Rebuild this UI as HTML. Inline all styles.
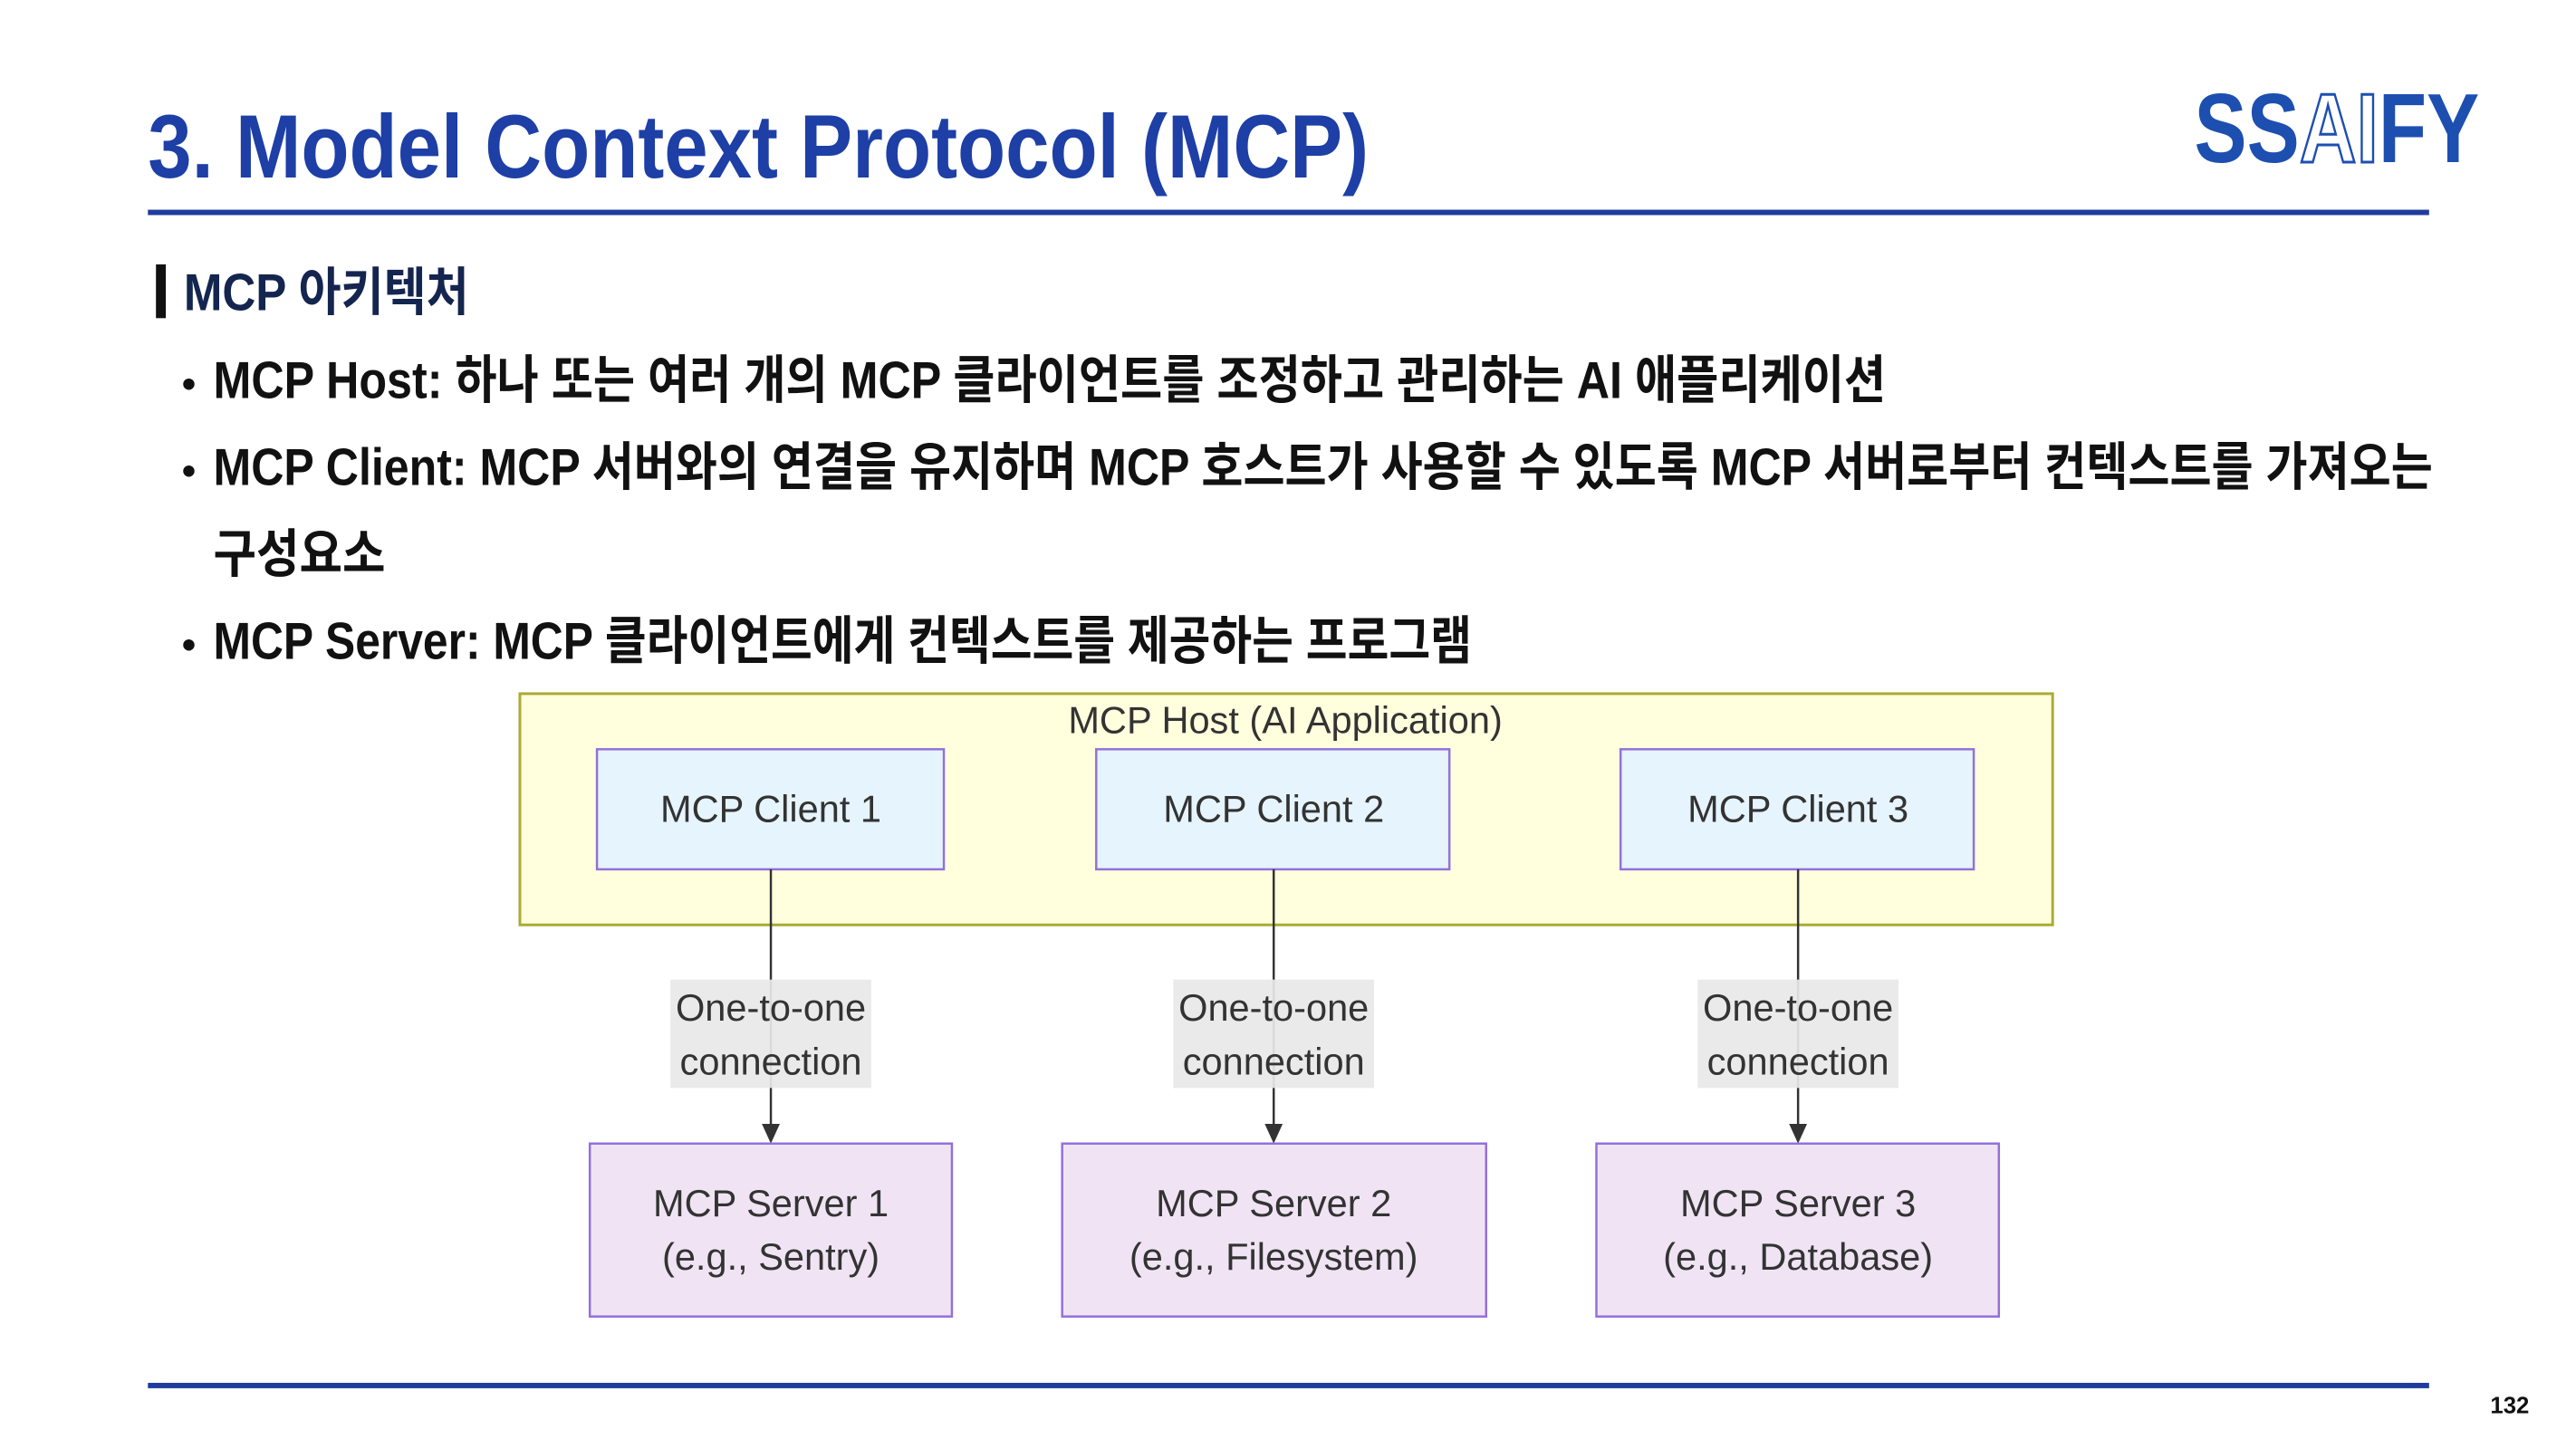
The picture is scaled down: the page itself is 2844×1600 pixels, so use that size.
<!DOCTYPE html>
<html><head><meta charset="utf-8"><style>
html,body{margin:0;padding:0;background:#fff;}
svg{display:block;}
</style></head><body>
<svg width="2844" height="1600" viewBox="0 0 2844 1600" xmlns="http://www.w3.org/2000/svg">
<rect width="2844" height="1600" fill="#fff"/>
<g transform="scale(0.9896)">
<!-- Title -->
<text x="165" y="198" font-family="Liberation Sans, Noto Sans CJK KR, sans-serif" font-weight="bold" font-size="100" fill="#1d3fa6" textLength="1362" lengthAdjust="spacingAndGlyphs">3. Model Context Protocol (MCP)</text>
<!-- Logo -->
<text x="2448" y="181" font-family="Liberation Sans, sans-serif" font-weight="bold" font-size="110" fill="#1d4fb0" textLength="318" lengthAdjust="spacingAndGlyphs">SS<tspan fill="#fff" stroke="#1d4fb0" stroke-width="3">AI</tspan>FY</text>
<rect x="165" y="234" width="2545" height="6" fill="#1f3b9e"/>
<!-- Section header -->
<rect x="174" y="295" width="11" height="60" fill="#111"/>
<text x="205" y="346" font-family="Liberation Sans, Noto Sans CJK KR, sans-serif" font-size="58" font-weight="bold" fill="#14254f" textLength="318" lengthAdjust="spacingAndGlyphs">MCP 아키텍처</text>
<!-- Bullets -->
<g font-family="Liberation Sans, Noto Sans CJK KR, sans-serif" font-size="58" fill="#111" font-weight="bold">
<text x="203" y="443" font-size="44">•</text>
<text x="238" y="444" textLength="1866" lengthAdjust="spacingAndGlyphs">MCP Host: 하나 또는 여러 개의 MCP 클라이언트를 조정하고 관리하는 AI 애플리케이션</text>
<text x="203" y="540" font-size="44">•</text>
<text x="238" y="541" textLength="2476" lengthAdjust="spacingAndGlyphs">MCP Client: MCP 서버와의 연결을 유지하며 MCP 호스트가 사용할 수 있도록 MCP 서버로부터 컨텍스트를 가져오는</text>
<text x="238" y="638" textLength="192" lengthAdjust="spacingAndGlyphs">구성요소</text>
<text x="203" y="734" font-size="44">•</text>
<text x="238" y="735" textLength="1404" lengthAdjust="spacingAndGlyphs">MCP Server: MCP 클라이언트에게 컨텍스트를 제공하는 프로그램</text>
</g>
<!-- Host -->
<rect x="580" y="774" width="1710" height="258" fill="#ffffde" stroke="#aaaa33" stroke-width="3"/>
<g font-family="Liberation Sans, sans-serif" font-size="42" fill="#333" text-anchor="middle">
<text x="1434" y="818">MCP Host (AI Application)</text>
<rect x="666" y="836" width="387" height="134" fill="#e6f4fd" stroke="#9370db" stroke-width="2.5"/>
<rect x="1223" y="836" width="394" height="134" fill="#e6f4fd" stroke="#9370db" stroke-width="2.5"/>
<rect x="1808" y="836" width="394" height="134" fill="#e6f4fd" stroke="#9370db" stroke-width="2.5"/>
<text x="860" y="917">MCP Client 1</text>
<text x="1421" y="917">MCP Client 2</text>
<text x="2006" y="917">MCP Client 3</text>
<g stroke="#333" stroke-width="2.5">
<line x1="860" y1="970" x2="860" y2="1258"/>
<line x1="1421" y1="970" x2="1421" y2="1258"/>
<line x1="2006" y1="970" x2="2006" y2="1258"/>
</g>
<g fill="#333">
<polygon points="850,1254 870,1254 860,1276"/>
<polygon points="1411,1254 1431,1254 1421,1276"/>
<polygon points="1996,1254 2016,1254 2006,1276"/>
</g>
<g fill="#e8e8e8" opacity="0.92">
<rect x="748" y="1093" width="224" height="121"/>
<rect x="1309" y="1093" width="224" height="121"/>
<rect x="1894" y="1093" width="224" height="121"/>
</g>
<text x="860" y="1139">One-to-one</text><text x="860" y="1199">connection</text>
<text x="1421" y="1139">One-to-one</text><text x="1421" y="1199">connection</text>
<text x="2006" y="1139">One-to-one</text><text x="2006" y="1199">connection</text>
<rect x="658" y="1276" width="404" height="193" fill="#f0e4f4" stroke="#9370db" stroke-width="2.5"/>
<rect x="1185" y="1276" width="473" height="193" fill="#f0e4f4" stroke="#9370db" stroke-width="2.5"/>
<rect x="1781" y="1276" width="449" height="193" fill="#f0e4f4" stroke="#9370db" stroke-width="2.5"/>
<text x="860" y="1357">MCP Server 1</text><text x="860" y="1417">(e.g., Sentry)</text>
<text x="1421" y="1357">MCP Server 2</text><text x="1421" y="1417">(e.g., Filesystem)</text>
<text x="2006" y="1357">MCP Server 3</text><text x="2006" y="1417">(e.g., Database)</text>
</g>
<rect x="165" y="1543" width="2545" height="6" fill="#1f3b9e"/>
<text x="2800" y="1577" font-family="Liberation Sans, sans-serif" font-size="26" font-weight="bold" fill="#111" text-anchor="middle">132</text>
</g>
</svg>
</body></html>
